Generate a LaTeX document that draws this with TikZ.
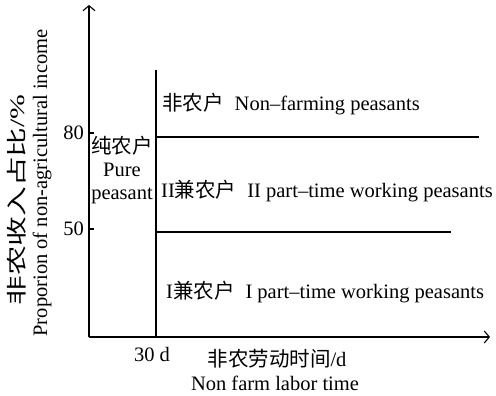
\documentclass[tikz,border=0pt]{standalone}
\usepackage{fontspec}
\setmainfont{Liberation Serif}
\newfontfamily\cjk{Noto Sans CJK SC}
\usetikzlibrary{arrows.meta}
\newcommand{\cjsp}{\hspace{11pt}}
\begin{document}
\begin{tikzpicture}[x=1pt,y=-1pt,
  lbl/.style={font=\fontsize{20.5}{24}\selectfont, inner sep=0pt},
  axis/.style={line width=1.1pt, -{Straight Barb[length=5pt,width=12pt]}},
  ln/.style={line width=1.1pt}]
\useasboundingbox[fill=white] (0,0) rectangle (496,396);
\coordinate (O) at (89,337);
\coordinate (Ytop) at (89,5);
\coordinate (Xend) at (490,337);
\coordinate (Vt) at (156,70);
\coordinate (Vb) at (156,337);
\coordinate (A1) at (156,137);
\coordinate (A2) at (479,137);
\coordinate (B1) at (156,232);
\coordinate (B2) at (451,232);
\coordinate (T8a) at (89,133);
\coordinate (T8b) at (94,133);
\coordinate (T5a) at (89,229);
\coordinate (T5b) at (94,229);
\draw[axis] (O) -- (Ytop);
\draw[axis] (O) -- (Xend);
\draw[ln] (Vt) -- (Vb);
\draw[ln] (A1) -- (A2);
\draw[ln] (B1) -- (B2);
\draw[ln] (T8a) -- (T8b);
\draw[ln] (T5a) -- (T5b);
\node[lbl, anchor=east] (n80) at (84,133) {80};
\node[lbl, anchor=east] (n50) at (84,229) {50};
\node[lbl] (n30) at (152,354) {30 d};
\node[lbl, anchor=west] (nf) at (162,104) {{\cjk 非农户}\cjsp Non–farming peasants};
\node[lbl, anchor=west] (p2) at (161,191) {II{\cjk 兼农户}\cjsp II part–time working peasants};
\node[lbl, anchor=west] (p1) at (166,292) {I{\cjk 兼农户}\cjsp I part–time working peasants};
\node[lbl, align=center] (pure) at (122,170) {{\cjk 纯农户}\\[-1pt]Pure\\[-1pt]peasant};
\node[lbl] (xl1) at (277,359) {{\cjk 非农劳动时间}/d};
\node[lbl] (xl2) at (275,383) {Non farm labor time};
\node[lbl, rotate=90, font=\fontsize{20.5}{24}\selectfont] (yl1) at (17,200) {\scalebox{1.45}[1]{{\cjk 非农收入占比}/\%}};
\node[lbl, rotate=90] (yl2) at (42,183) {Proporion of non-agricultural income};
\end{tikzpicture}
\end{document}
